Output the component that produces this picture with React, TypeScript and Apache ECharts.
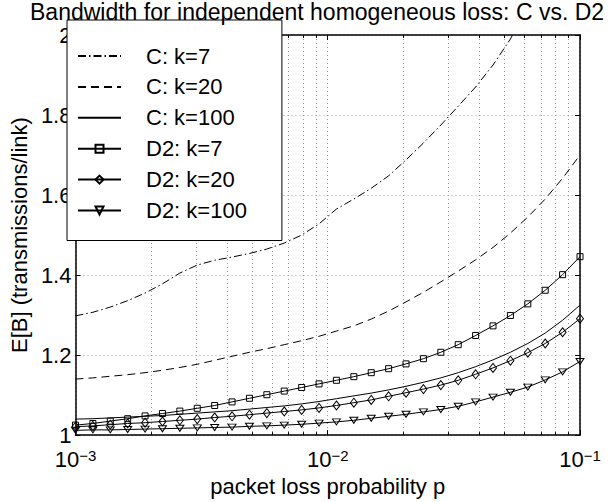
import React, { useEffect, useRef } from "react";
import * as echarts from "echarts";

// packet loss probability p (30 log-spaced sample points, 1e-3 .. 1e-1)
const P = [
  0.001, 0.0011721, 0.0013738, 0.0016103, 0.0018874, 0.0022122, 0.0025929, 0.0030392, 0.0035622, 0.0041753,
  0.0048939, 0.0057362, 0.0067234, 0.0078805, 0.0092367, 0.010826, 0.01269, 0.014874, 0.017433, 0.020434,
  0.02395, 0.028072, 0.032903, 0.038566, 0.045204, 0.052983, 0.062102, 0.07279, 0.085317, 0.1,
];

const C_K7 = [
  1.298, 1.307, 1.32, 1.336, 1.355, 1.378, 1.405, 1.425, 1.437, 1.445,
  1.454, 1.465, 1.48, 1.5, 1.528, 1.565, 1.59, 1.617, 1.648, 1.688,
  1.73, 1.775, 1.822, 1.87, 1.925, 1.99, 2.07, 2.15, 2.24, 2.35,
];
const C_K20 = [
  1.14, 1.143, 1.147, 1.151, 1.156, 1.162, 1.169, 1.177, 1.187, 1.197,
  1.207, 1.216, 1.226, 1.236, 1.247, 1.26, 1.273, 1.29, 1.31, 1.333,
  1.357, 1.383, 1.41, 1.438, 1.469, 1.505, 1.545, 1.59, 1.642, 1.7,
];
const C_K100 = [
  1.04, 1.041, 1.043, 1.045, 1.047, 1.049, 1.052, 1.055, 1.058, 1.061,
  1.065, 1.069, 1.073, 1.078, 1.084, 1.091, 1.098, 1.105, 1.113, 1.122,
  1.132, 1.143, 1.156, 1.171, 1.188, 1.207, 1.229, 1.255, 1.287, 1.325,
];
const D2_K7 = [
  1.025, 1.029, 1.035, 1.041, 1.048, 1.054, 1.06, 1.067, 1.074, 1.083,
  1.092, 1.101, 1.11, 1.119, 1.128, 1.137, 1.146, 1.156, 1.166, 1.178,
  1.191, 1.207, 1.226, 1.249, 1.273, 1.299, 1.328, 1.362, 1.401, 1.446,
];
const D2_K20 = [
  1.021, 1.023, 1.026, 1.029, 1.031, 1.034, 1.037, 1.04, 1.044, 1.047,
  1.051, 1.055, 1.059, 1.063, 1.068, 1.074, 1.081, 1.088, 1.097, 1.106,
  1.115, 1.125, 1.137, 1.152, 1.168, 1.186, 1.206, 1.229, 1.257, 1.291,
];
const D2_K100 = [
  1.012, 1.013, 1.013, 1.014, 1.015, 1.016, 1.017, 1.018, 1.019, 1.02,
  1.022, 1.023, 1.025, 1.027, 1.03, 1.033, 1.037, 1.042, 1.047, 1.052,
  1.058, 1.064, 1.072, 1.083, 1.095, 1.107, 1.12, 1.138, 1.158, 1.184,
];

const NAMES = ["C: k=7", "C: k=20", "C: k=100", "D2: k=7", "D2: k=20", "D2: k=100"];
const TITLE = "Bandwidth for independent homogeneous loss: C vs. D2";
const X_NAME = "packet loss probability p";
const Y_NAME = "E[B] (transmissions/link)";
const X_MIN = 0.001;
const X_MAX = 0.1;
const Y_MIN = 1;
const Y_MAX = 2;
const Y_STEP = 0.2;

const FONT = "'Liberation Sans', Arial, Helvetica, sans-serif";

const pair = (ys: number[]) => P.map((p, i) => [p, ys[i]]);

export default function App() {
  const ref = useRef<HTMLDivElement>(null);

  useEffect(() => {
    document.body.style.margin = "0";
    const chart = echarts.init(ref.current!, null, { renderer: "svg" });

    const gridLine = { show: true, lineStyle: { color: "#9a9a9a", type: [1, 3], width: 1 } };
    const axisLine = { show: true, onZero: false, lineStyle: { color: "#000", width: 1.5 } };
    const tick = { show: true, inside: true, length: 5, lineStyle: { color: "#000", width: 1 } };
    const minorTick = { show: true, splitNumber: 9, length: 3, lineStyle: { color: "#000", width: 1 } };

    const plain = (name: string, data: number[], type: any) => ({
      name,
      type: "line",
      data: pair(data),
      symbol: "none",
      lineStyle: { color: "#000", width: 1, type },
      itemStyle: { color: "rgba(0,0,0,0)", borderWidth: 0 },
      z: 3,
    });
    const marked = (name: string, data: number[], symbol: string, size: any, rotate = 0) => ({
      name,
      type: "line",
      data: pair(data),
      symbol,
      symbolSize: size,
      symbolRotate: rotate,
      showAllSymbol: true,
      lineStyle: { color: "#000", width: 1, type: "solid" },
      itemStyle: { color: "rgba(255,255,255,0)", borderColor: "#000", borderWidth: 1 },
      z: 3,
    });

    const option: any = {
      animation: false,
      textStyle: { fontFamily: FONT, color: "#000" },
      title: {
        text: TITLE,
        left: 30,
        top: 0,
        padding: 0,
        textStyle: { fontSize: 23, fontWeight: "normal", color: "#000", fontFamily: FONT, lineHeight: 23 },
      },
      grid: { left: 67, right: 33, top: 35, bottom: 62, containLabel: false },
      legend: {
        orient: "vertical",
        left: 67,
        top: 20,
        padding: [25, 35, 19, 10],
        itemGap: 8.9,
        itemWidth: 43,
        itemHeight: 10,
        backgroundColor: "#fff",
        borderColor: "#000",
        borderWidth: 1,
        borderRadius: 0,
        selectedMode: false,
        textStyle: { fontSize: 22, color: "#000", fontFamily: FONT, lineHeight: 22, padding: [0, 0, 0, 20] },
        data: NAMES,
      },
      xAxis: [
        {
          type: "log",
          logBase: 10,
          min: X_MIN,
          max: X_MAX,
          position: "bottom",
          name: X_NAME,
          nameLocation: "middle",
          nameGap: 34,
          nameTextStyle: { fontSize: 22, color: "#000", fontFamily: FONT },
          axisLine,
          axisTick: tick,
          minorTick,
          splitLine: gridLine,
          minorSplitLine: gridLine,
          axisLabel: {
            margin: 13,
            formatter: (v: number) => `{b|10}{s|\u2212${-Math.round(Math.log10(v))}}`,
            rich: {
              b: { fontSize: 22, lineHeight: 22, padding: [1, 0, 0, 0], verticalAlign: "bottom", color: "#000", fontFamily: FONT },
              s: { fontSize: 15, lineHeight: 2, verticalAlign: "top", color: "#000", fontFamily: FONT },
            },
          },
        },
        {
          type: "log",
          logBase: 10,
          min: X_MIN,
          max: X_MAX,
          position: "top",
          axisLine,
          axisTick: tick,
          minorTick,
          splitLine: { show: false },
          minorSplitLine: { show: false },
          axisLabel: { show: false },
        },
      ],
      yAxis: [
        {
          type: "value",
          min: Y_MIN,
          max: Y_MAX,
          interval: Y_STEP,
          position: "left",
          name: Y_NAME,
          nameLocation: "middle",
          nameGap: 33,
          nameRotate: 90,
          nameTextStyle: { fontSize: 22, color: "#000", fontFamily: FONT },
          axisLine,
          axisTick: tick,
          axisLabel: { fontSize: 22, lineHeight: 16, color: "#000", margin: 4, fontFamily: FONT },
          splitLine: gridLine,
        },
        {
          type: "value",
          min: Y_MIN,
          max: Y_MAX,
          interval: Y_STEP,
          position: "right",
          axisLine,
          axisTick: tick,
          axisLabel: { show: false },
          splitLine: { show: false },
        },
      ],
      series: [
        plain(NAMES[0], C_K7, [8, 3, 1.5, 3]),
        plain(NAMES[1], C_K20, [8, 5]),
        plain(NAMES[2], C_K100, "solid"),
        marked(NAMES[3], D2_K7, "rect", 6),
        marked(NAMES[4], D2_K20, "diamond", [7, 9]),
        marked(NAMES[5], D2_K100, "triangle", [8, 6], 180),
      ],
    };

    chart.setOption(option);
    return () => chart.dispose();
  }, []);

  return <div ref={ref} style={{ width: 613, height: 502 }} />;
}
